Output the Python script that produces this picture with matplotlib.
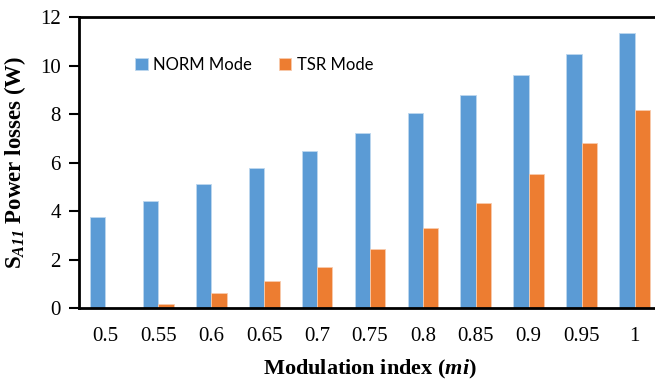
import matplotlib
matplotlib.use("Agg")
import matplotlib.pyplot as plt
import numpy as np

# Power losses of switch S_A11 versus modulation index
mod_index = ["0.5", "0.55", "0.6", "0.65", "0.7", "0.75", "0.8", "0.85", "0.9", "0.95", "1"]
norm_mode = [3.77, 4.41, 5.10, 5.79, 6.49, 7.23, 8.03, 8.80, 9.62, 10.46, 11.33]
tsr_mode = [0.0, 0.18, 0.60, 1.11, 1.69, 2.42, 3.30, 4.32, 5.51, 6.82, 8.18]

plt.rcParams["mathtext.fontset"] = "custom"
plt.rcParams["mathtext.rm"] = "Liberation Serif"
plt.rcParams["mathtext.it"] = "Liberation Serif:italic"
plt.rcParams["mathtext.bf"] = "Liberation Serif:bold"
plt.rcParams["mathtext.bfit"] = "Liberation Serif:bold:italic"

SERIF = "Liberation Serif"

fig = plt.figure(figsize=(6.55, 3.82), dpi=100)
ax = fig.add_axes([0.1206, 0.1937, 0.8885, 0.7618])

x = np.arange(len(mod_index))
w = 0.29
ax.bar(x - w / 2, norm_mode, w, color="#5B9BD5", edgecolor="#BDD7EE", linewidth=0.6, label="NORM Mode")
ax.bar(x + w / 2, tsr_mode, w, color="#ED7D31", edgecolor="#F8CBAD", linewidth=0.6, label="TSR Mode")

ax.set_xlim(-0.5, len(mod_index) - 0.5)
ax.set_ylim(0, 12)
ax.set_yticks(range(0, 13, 2))
ax.set_xticks(x)
ax.set_xticklabels(mod_index)

for lab in ax.get_xticklabels() + ax.get_yticklabels():
    lab.set_fontfamily(SERIF)
    lab.set_fontsize(15)

ax.tick_params(axis="x", length=0, pad=14)
ax.tick_params(axis="y", length=7, width=1.5, pad=6, direction="out")

for side in ["left", "bottom", "top", "right"]:
    ax.spines[side].set_linewidth(2)
    ax.spines[side].set_color("black")

ax.set_xlabel(r"Modulation index ($\mathbfit{mi}$)", fontfamily=SERIF, fontsize=16,
              fontweight="bold", labelpad=8)
ax.set_ylabel(r"$\mathbf{S}_{\mathbfit{A11}}$ Power losses (W)", fontfamily=SERIF, fontsize=16.5,
              fontweight="bold", labelpad=9)

ax.legend(loc="center left", bbox_to_anchor=(0.082, 0.835), ncol=2, frameon=False,
          prop={"family": "Lato", "size": 12}, handlelength=0.75, handleheight=0.75,
          handletextpad=0.35, columnspacing=1.6, borderpad=0)

fig.savefig("out.png", dpi=100)
